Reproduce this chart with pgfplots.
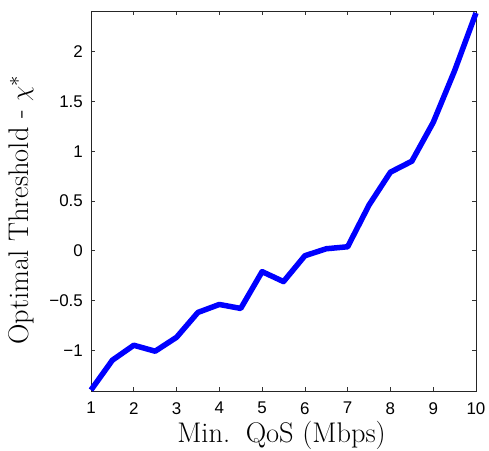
\documentclass[border=0pt]{standalone}
\usepackage{pgfplots}
\pgfplotsset{compat=1.18}
\usepackage{fontspec}
\newfontfamily\hel{Liberation Sans}
\begin{document}
\begin{tikzpicture}
\begin{axis}[
  scale only axis,
  width=385bp, height=380bp,
  xmin=1, xmax=10, ymin=-1.41, ymax=2.41,
  xtick={1,2,...,10},
  ytick={-1,-0.5,0,0.5,1,1.5,2},
  yticklabels={−1,−0.5,0,0.5,1,1.5,2},
  tick align=inside,
  major tick length=4bp,
  axis line style={line width=0.9bp, black!85},
  every tick/.style={black!80, line width=0.6bp},
  /pgf/number format/assume math mode=true,
  ticklabel style={font=\hel\fontsize{17}{17}\selectfont, inner sep=0pt},
  xticklabel style={anchor=north, yshift=-11bp},
  yticklabel style={anchor=east, xshift=-8bp},
  xlabel={Min.\hspace{0.55em}QoS (Mbps)},
  ylabel={Optimal Threshold - $\chi^*$},
  label style={font=\fontsize{28.5}{28.5}\selectfont, inner sep=0pt},
  xlabel style={at={(axis description cs:0.495,-0.118)}, anchor=center},
  ylabel style={at={(axis description cs:-0.1805,0.476)}, anchor=center, rotate=0},
  clip=false,
]
\addplot[blue, line width=5.5bp, line join=round] coordinates {
(1,-1.40) (1.5,-1.10) (2,-0.95) (2.5,-1.01) (3,-0.87) (3.5,-0.62) (4,-0.54) (4.5,-0.58)
(5,-0.21) (5.5,-0.31) (6,-0.05) (6.5,0.02) (7,0.04) (7.5,0.46) (8,0.79) (8.5,0.90)
(9,1.29) (9.5,1.81) (10,2.39)
};
\end{axis}
\path ([xshift=-91bp,yshift=-59bp]current axis.south west) rectangle ([xshift=13bp,yshift=11bp]current axis.north east);
\end{tikzpicture}
\end{document}
